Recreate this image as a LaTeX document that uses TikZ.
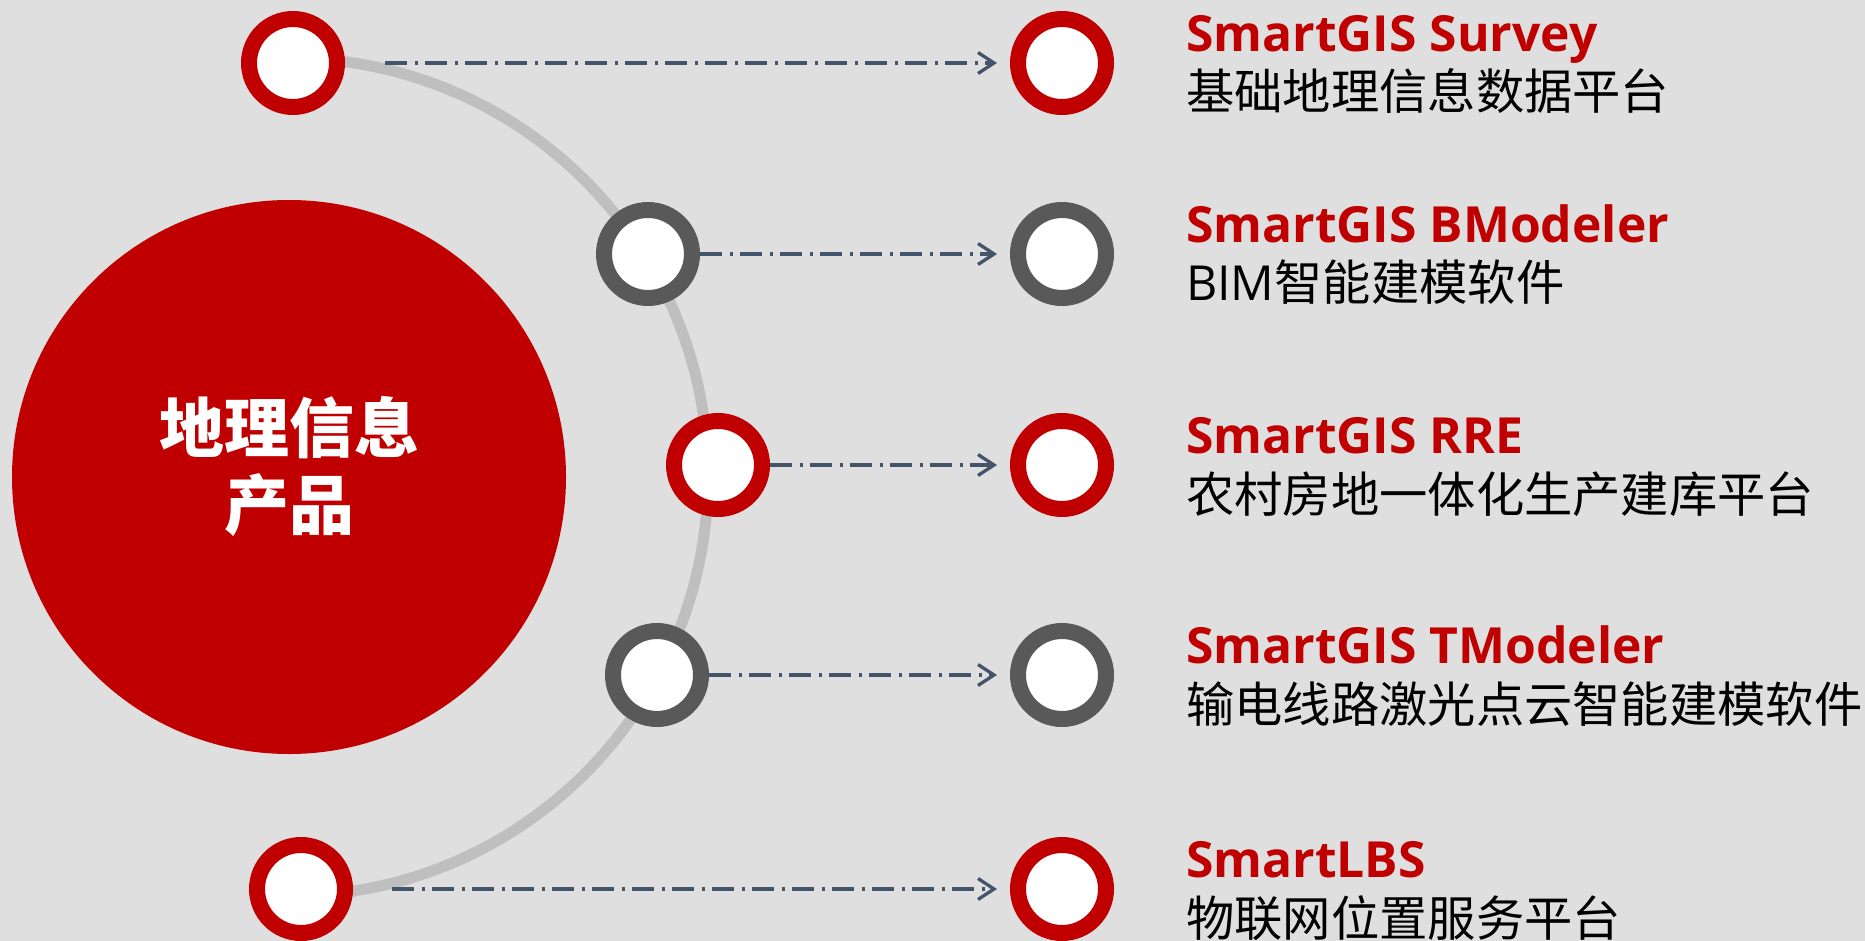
\documentclass[tikz,border=0pt]{standalone}
\usepackage{fontspec}
\setmainfont{Open Sans}
\newfontfamily\cjk{Noto Sans CJK SC}
\usetikzlibrary{arrows.meta}
\definecolor{bg}{HTML}{DFDFDF}
\definecolor{pred}{HTML}{C00000}
\definecolor{pgray}{HTML}{595959}
\definecolor{arcgray}{HTML}{BFBFBF}
\definecolor{arrowc}{HTML}{44546A}
\begin{document}
\begin{tikzpicture}[x=1pt,y=-1pt,
  ring/.style={circle, draw=#1, fill=white, line width=16pt, minimum size=88pt, inner sep=0pt},
  bigdisc/.style={circle, fill=pred, minimum size=554pt, inner sep=0pt},
  link/.style={draw=arrowc, line width=3.3pt, dash pattern=on 22pt off 8pt on 3pt off 7pt,
    -{Straight Barb[length=16pt,width=21pt]}},
  titletext/.style={anchor=base west, inner sep=0pt, text=pred, font=\fontsize{49.8}{60}\selectfont\bfseries},
  subtext/.style={anchor=base west, inner sep=0pt, text=black, font=\fontsize{48.3}{56}\selectfont\cjk},
  maintext/.style={inner sep=0pt, text=white, align=center, font=\fontsize{65}{77}\selectfont\cjk\bfseries}]
\fill[bg] (0,0) rectangle (1865,941);
\useasboundingbox (0,0) rectangle (1865,941);
% arc
\draw[arcgray, line width=11pt] (289,58) arc[start angle=90, end angle=-90, radius=419pt];
% main disc
\node[bigdisc] (main) at (289,477) {};
\node[maintext] (mainlabel) at (289,466) {地理信息\\产品};
% left rings
\node[ring=pred]  (l1) at (293,63)  {};
\node[ring=pgray] (l2) at (648,254) {};
\node[ring=pred]  (l3) at (718,465) {};
\node[ring=pgray] (l4) at (657,675) {};
\node[ring=pred]  (l5) at (301,889) {};
% right rings
\node[ring=pred]  (r1) at (1062,63)  {};
\node[ring=pgray] (r2) at (1062,254) {};
\node[ring=pred]  (r3) at (1062,465) {};
\node[ring=pgray] (r4) at (1062,675) {};
\node[ring=pred]  (r5) at (1062,889) {};
% links
\draw[link] ([xshift=40pt]l1.east) -- ([xshift=-13pt]r1.west);
\draw[link] (l2.east) -- ([xshift=-13pt]r2.west);
\draw[link] (l3.east) -- ([xshift=-13pt]r3.west);
\draw[link] (l4.east) -- ([xshift=-13pt]r4.west);
\draw[link] ([xshift=39pt]l5.east) -- ([xshift=-13pt]r5.west);
% texts
\node[titletext] (t1) at (1186,52)  {SmartGIS Survey};
\node[subtext]   (s1) at (1186,110) {基础地理信息数据平台};
\node[titletext] (t2) at (1186,243) {SmartGIS BModeler};
\node[subtext]   (s2) at (1186,300) {{\rmfamily BIM}智能建模软件};
\node[titletext] (t3) at (1186,453) {SmartGIS RRE};
\node[subtext]   (s3) at (1186,512) {农村房地一体化生产建库平台};
\node[titletext] (t4) at (1186,663) {SmartGIS TModeler};
\node[subtext]   (s4) at (1186,722) {输电线路激光点云智能建模软件};
\node[titletext] (t5) at (1186,877) {SmartLBS};
\node[subtext]   (s5) at (1186,936) {物联网位置服务平台};
\end{tikzpicture}
\end{document}
